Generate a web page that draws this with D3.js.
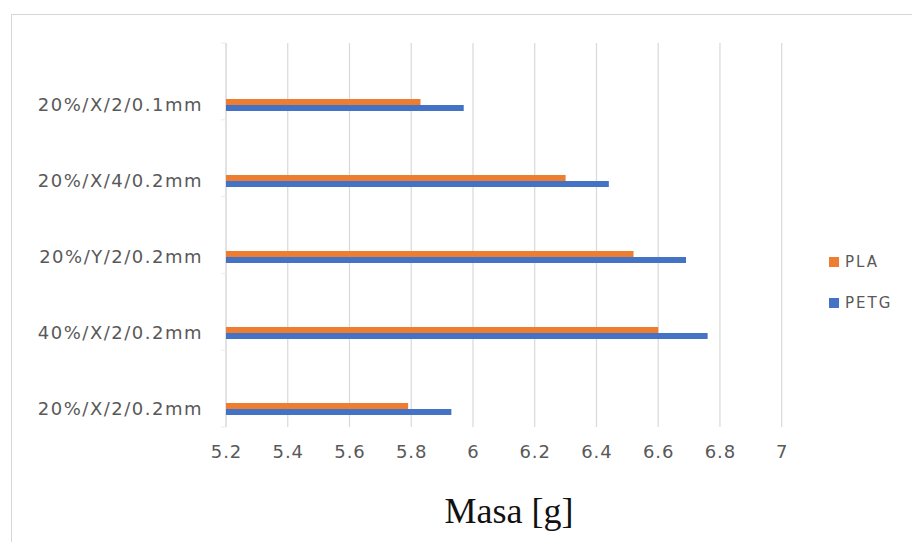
<!DOCTYPE html>
<html>
<head>
<meta charset="utf-8">
<script src="https://cdn.jsdelivr.net/npm/d3@7"></script>
<style>
  body { margin: 0; background: #fff; }
  svg { display: block; }
</style>
</head>
<body>
<div id="the_chart"></div>
<script>
// categories top to bottom, as in the picture
var categories = ["20%/X/2/0.1mm", "20%/X/4/0.2mm", "20%/Y/2/0.2mm", "40%/X/2/0.2mm", "20%/X/2/0.2mm"];
var series = ["PLA", "PETG"];
var pla  = [5.83, 6.30, 6.52, 6.60, 5.79];
var petg = [5.97, 6.44, 6.69, 6.76, 5.93];
var xTicks = [5.2, 5.4, 5.6, 5.8, 6, 6.2, 6.4, 6.6, 6.8, 7];
var colors = {"PLA": "#ED7D31", "PETG": "#4472C4"};

var w = 912, h = 542;

var svg = d3.select("#the_chart")
            .append("svg")
            .attr("width", w)
            .attr("height", h);

// chart border (runs off the picture on the right and bottom)
svg.append("rect")
   .attr("x", 11.5).attr("y", 14.5)
   .attr("width", w + 20).attr("height", h + 20)
   .attr("fill", "none")
   .attr("stroke", "#d6d6d6");

var plotL = 226, plotR = 781.7, plotT = 43, plotB = 427;

var xscale = d3.scaleLinear()
               .domain([5.2, 7])
               .range([plotL, plotR]);

var yscale = d3.scaleBand()
               .domain(categories)
               .range([67, 447]);

var sscale = d3.scaleBand()
               .domain(series)
               .range([-6, 6]);

// gridlines
svg.append("g")
   .selectAll("line")
   .data(xTicks.slice(1))
   .enter().append("line")
   .attr("x1", function(d) { return xscale(d); })
   .attr("x2", function(d) { return xscale(d); })
   .attr("y1", plotT).attr("y2", plotB)
   .attr("stroke", "#d9d9d9")
   .attr("stroke-width", 1.2);

// category axis line + faint little ticks
svg.append("line")
   .attr("x1", plotL).attr("x2", plotL)
   .attr("y1", plotT).attr("y2", plotB)
   .attr("stroke", "#cfcfcf")
   .attr("stroke-width", 1.2);

svg.append("g")
   .selectAll("line")
   .data(d3.range(categories.length + 1))
   .enter().append("line")
   .attr("x1", plotL - 5).attr("x2", plotL)
   .attr("y1", function(i) { return plotT + i * (plotB - plotT) / categories.length; })
   .attr("y2", function(i) { return plotT + i * (plotB - plotT) / categories.length; })
   .attr("stroke", "#ececec");

// x axis labels
var xaxis = d3.axisBottom()
              .scale(xscale)
              .tickValues(xTicks)
              .tickSize(0)
              .tickPadding(0)
              .tickFormat(d3.format("~g"));

var gX = svg.append("g")
            .attr("transform", "translate(0," + 445 + ")")
            .call(xaxis);
gX.select(".domain").remove();
gX.selectAll("text")
  .attr("dy", "0.71em")
  .attr("font-family", "DejaVu Sans")
  .attr("font-size", 18)
  .attr("letter-spacing", 1)
  .attr("fill", "#595959");

// category labels
svg.append("g")
   .selectAll("text")
   .data(categories)
   .enter().append("text")
   .attr("x", 203)
   .attr("y", function(d) { return yscale(d) + yscale.bandwidth() / 2; })
   .attr("dy", "0.36em")
   .attr("text-anchor", "end")
   .attr("font-family", "DejaVu Sans")
   .attr("font-size", 18)
   .attr("letter-spacing", 1.5)
   .attr("fill", "#595959")
   .text(function(d) { return d; });

// bars
var rows = categories.map(function(c, i) {
    return {cat: c, values: [{s: "PLA", v: pla[i]}, {s: "PETG", v: petg[i]}]};
});

svg.append("g")
   .selectAll("g")
   .data(rows)
   .enter().append("g")
   .attr("transform", function(d) {
       return "translate(0," + (yscale(d.cat) + yscale.bandwidth() / 2) + ")";
   })
   .selectAll("rect")
   .data(function(d) { return d.values; })
   .enter().append("rect")
   .attr("x", xscale(5.2))
   .attr("y", function(d) { return sscale(d.s); })
   .attr("height", sscale.bandwidth())
   .attr("width", function(d) { return xscale(d.v) - xscale(5.2); })
   .attr("fill", function(d) { return colors[d.s]; });

// legend
var legend = svg.append("g")
   .selectAll("g")
   .data(series)
   .enter().append("g")
   .attr("transform", function(d, i) { return "translate(829," + (262 + i * 41) + ")"; });

legend.append("rect")
   .attr("x", 0).attr("y", -5)
   .attr("width", 10).attr("height", 10)
   .attr("fill", function(d) { return colors[d]; });

legend.append("text")
   .attr("x", 16)
   .attr("dy", "0.36em")
   .attr("font-family", "DejaVu Sans")
   .attr("font-size", 15)
   .attr("letter-spacing", 2)
   .attr("fill", "#595959")
   .text(function(d) { return d; });

// axis title
svg.append("text")
   .attr("x", 509)
   .attr("y", 523)
   .attr("text-anchor", "middle")
   .attr("font-family", "Liberation Serif")
   .attr("font-size", 36)
   .attr("fill", "#111")
   .text("Masa [g]");
</script>
</body>
</html>
